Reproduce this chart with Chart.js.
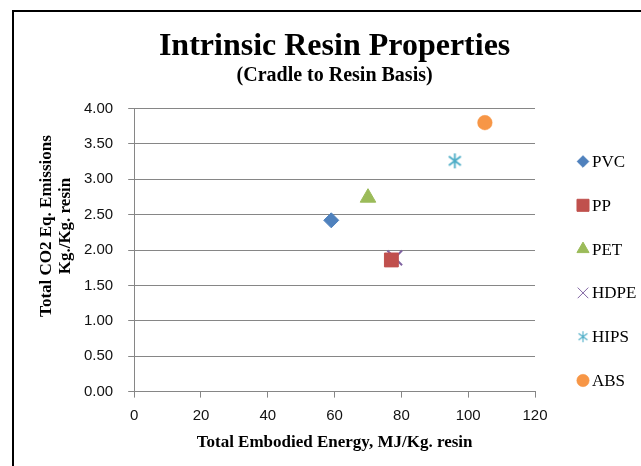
<!DOCTYPE html>
<html>
<head>
<meta charset="utf-8">
<script src="https://cdn.jsdelivr.net/npm/chart.js@4.4.1/dist/chart.umd.min.js"></script>
<style>
html,body{margin:0;padding:0;background:#fff;overflow:hidden;width:641px;height:466px;}
#frame{position:absolute;left:12px;top:10px;width:720px;height:520px;border:2px solid #000;}
#wrap{position:absolute;left:0;top:0;width:641px;height:466px;}
</style>
</head>
<body>
<div id="frame"></div>
<div id="wrap"><canvas id="c" width="641" height="466"></canvas></div>
<script>
// ---- data ----
const seriesNames = ['PVC', 'PP', 'PET', 'HDPE', 'HIPS', 'ABS'];
const energyValues = [59, 77, 70, 78, 96, 105];      // MJ/Kg resin
const co2Values = [2.42, 1.86, 2.74, 1.89, 3.26, 3.80]; // Kg/Kg resin
const xTickValues = [0, 20, 40, 60, 80, 100, 120];
const yTickValues = [0, 0.5, 1, 1.5, 2, 2.5, 3, 3.5, 4];
const titleText = 'Intrinsic Resin Properties';
const subtitleText = '(Cradle to Resin Basis)';
const xTitleText = 'Total Embodied Energy, MJ/Kg. resin';
const yTitleLines = ['Total CO2 Eq. Emissions', 'Kg./Kg. resin'];

// ---- styles ----
const colors = ['#4F81BD', '#C0504D', '#9BBB59', '#8064A2', '#4BACC6', '#F79646'];

function makeStar(size, color, lw) {
  const cv = document.createElement('canvas');
  cv.width = size; cv.height = size;
  const g = cv.getContext('2d');
  g.strokeStyle = color; g.lineWidth = lw; g.lineCap = 'butt';
  const m = size / 2, e = size / 2 - 1, d = e * 0.8;
  g.beginPath();
  g.moveTo(m, m - e); g.lineTo(m, m + e);
  g.moveTo(m - d, m - d * 0.75); g.lineTo(m + d, m + d * 0.75);
  g.moveTo(m + d, m - d * 0.75); g.lineTo(m - d, m + d * 0.75);
  g.stroke();
  return cv;
}
const starBig = makeStar(17, colors[4], 1.8);
const starSmall = makeStar(13, colors[4], 1.1);

const pointStyles = ['rectRot', 'rect', 'triangle', 'crossRot', starBig, 'circle'];
const pointRadii = [7.5, 9.8, 9, 10.4, 8, 7.3];
const borderWidths = [1, 1, 1, 2, 1, 0.5];
const legendStyles = ['rectRot', 'rect', 'triangle', 'crossRot', starSmall, 'circle'];
const legendRadii = [5.8, 8.5, 7, 7.5, 6, 6.2];
const legendBorder = [1, 1, 1, 1, 1, 0.5];

const datasets = seriesNames.map((name, i) => ({
  label: name,
  data: [{ x: energyValues[i], y: co2Values[i] }],
  pointStyle: pointStyles[i],
  pointRadius: pointRadii[i],
  pointHoverRadius: pointRadii[i],
  backgroundColor: colors[i],
  borderColor: colors[i],
  borderWidth: borderWidths[i],
}));

const serif = 'Liberation Serif';
const sans = 'Liberation Sans';

const yTitlePlugin = {
  id: 'yTitle',
  afterDraw(chart) {
    const ctx = chart.ctx, a = chart.chartArea;
    const cy = (a.top + a.bottom) / 2 - 24;
    ctx.save();
    ctx.font = 'bold 17px "' + serif + '"';
    ctx.fillStyle = '#000';
    ctx.textAlign = 'center';
    ctx.textBaseline = 'middle';
    const xs = [a.left - 88, a.left - 69];
    yTitleLines.forEach((t, i) => {
      ctx.save();
      ctx.translate(xs[i], cy);
      ctx.rotate(-Math.PI / 2);
      ctx.fillText(t, 0, 0);
      ctx.restore();
    });
    ctx.restore();
  }
};

const legendPlugin = {
  id: 'sideLegend',
  afterDraw(chart) {
    const ctx = chart.ctx, a = chart.chartArea;
    const x0 = a.right + 48, y0 = a.top + 53, step = 43.8;
    ctx.save();
    chart.data.datasets.forEach((ds, i) => {
      const y = y0 + i * step;
      ctx.fillStyle = ds.backgroundColor;
      ctx.strokeStyle = ds.borderColor;
      ctx.lineWidth = legendBorder[i];
      Chart.helpers.drawPoint(ctx, { pointStyle: legendStyles[i], radius: legendRadii[i], borderWidth: legendBorder[i], rotation: 0 }, x0, y);
      ctx.fillStyle = '#000';
      ctx.font = '17px "' + serif + '"';
      ctx.textAlign = 'left';
      ctx.textBaseline = 'middle';
      ctx.fillText(ds.label, x0 + 9, y + 1);
    });
    ctx.restore();
  }
};

new Chart(document.getElementById('c'), {
  type: 'scatter',
  data: { datasets },
  plugins: [yTitlePlugin, legendPlugin],
  options: {
    responsive: false,
    animation: false,
    devicePixelRatio: 1,
    layout: { padding: { left: 69, right: 106, top: 0, bottom: 13 } },
    plugins: {
      legend: { display: false },
      tooltip: { enabled: false },
      title: {
        display: true, text: titleText, fullSize: false, color: '#000',
        font: { family: serif, size: 32, weight: 'bold', lineHeight: 1.0 },
        padding: { top: 31, bottom: 0 }
      },
      subtitle: {
        display: true, text: subtitleText, fullSize: false, color: '#000',
        font: { family: serif, size: 20, weight: 'bold', lineHeight: 1.0 },
        padding: { top: 3, bottom: 22.5 }
      }
    },
    scales: {
      x: {
        type: 'linear', min: 0, max: 120,
        afterBuildTicks: s => { s.ticks = xTickValues.map(v => ({ value: v })); },
        ticks: { color: '#111', font: { family: sans, size: 15 }, padding: 9, maxRotation: 0 },
        grid: { drawOnChartArea: false, drawTicks: true, tickLength: 6, color: '#868686', lineWidth: 1 },
        border: { color: '#868686', width: 1 },
        title: {
          display: true, text: xTitleText, color: '#000',
          font: { family: serif, size: 17, weight: 'bold' },
          padding: { top: -1, bottom: 0 }
        }
      },
      y: {
        type: 'linear', min: 0, max: 4,
        afterBuildTicks: s => { s.ticks = yTickValues.map(v => ({ value: v })); },
        ticks: { color: '#111', font: { family: sans, size: 15 }, padding: 15, callback: v => Number(v).toFixed(2) },
        grid: { drawTicks: true, tickLength: 6, color: '#868686', lineWidth: 1 },
        border: { color: '#868686', width: 1 }
      }
    }
  }
});
</script>
</body>
</html>
